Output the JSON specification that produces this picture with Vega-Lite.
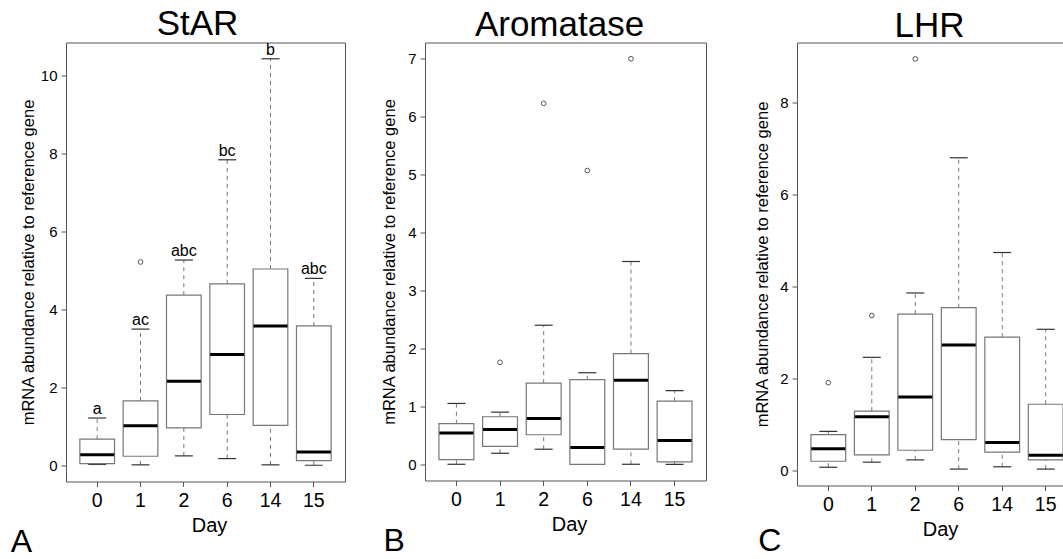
{
  "$schema": "https://vega.github.io/schema/vega-lite/v6.json",
  "padding": {"left": 10, "top": 5.5, "right": 0, "bottom": 0},
  "datasets": {
    "stats": [
      {"gene": "StAR", "day": "0", "lo": 0.02, "q1": 0.04, "med": 0.27, "q3": 0.67, "hi": 1.21, "sig": "a"},
      {"gene": "StAR", "day": "1", "lo": 0.01, "q1": 0.23, "med": 1.01, "q3": 1.65, "hi": 3.49, "sig": "ac"},
      {"gene": "StAR", "day": "2", "lo": 0.24, "q1": 0.96, "med": 2.15, "q3": 4.36, "hi": 5.26, "sig": "abc"},
      {"gene": "StAR", "day": "6", "lo": 0.17, "q1": 1.30, "med": 2.84, "q3": 4.65, "hi": 7.83, "sig": "bc"},
      {"gene": "StAR", "day": "14", "lo": 0.01, "q1": 1.02, "med": 3.57, "q3": 5.03, "hi": 10.42, "sig": "b"},
      {"gene": "StAR", "day": "15", "lo": 0.0, "q1": 0.12, "med": 0.34, "q3": 3.57, "hi": 4.79, "sig": "abc"},
      {"gene": "Aromatase", "day": "0", "lo": 0.0, "q1": 0.08, "med": 0.54, "q3": 0.70, "hi": 1.05, "sig": ""},
      {"gene": "Aromatase", "day": "1", "lo": 0.19, "q1": 0.31, "med": 0.60, "q3": 0.82, "hi": 0.90, "sig": ""},
      {"gene": "Aromatase", "day": "2", "lo": 0.26, "q1": 0.51, "med": 0.79, "q3": 1.40, "hi": 2.40, "sig": ""},
      {"gene": "Aromatase", "day": "6", "lo": 0.0, "q1": 0.0, "med": 0.29, "q3": 1.46, "hi": 1.58, "sig": ""},
      {"gene": "Aromatase", "day": "14", "lo": 0.0, "q1": 0.26, "med": 1.45, "q3": 1.91, "hi": 3.50, "sig": ""},
      {"gene": "Aromatase", "day": "15", "lo": 0.0, "q1": 0.04, "med": 0.41, "q3": 1.09, "hi": 1.27, "sig": ""},
      {"gene": "LHR", "day": "0", "lo": 0.06, "q1": 0.19, "med": 0.46, "q3": 0.77, "hi": 0.84, "sig": ""},
      {"gene": "LHR", "day": "1", "lo": 0.17, "q1": 0.33, "med": 1.16, "q3": 1.28, "hi": 2.45, "sig": ""},
      {"gene": "LHR", "day": "2", "lo": 0.22, "q1": 0.43, "med": 1.59, "q3": 3.39, "hi": 3.85, "sig": ""},
      {"gene": "LHR", "day": "6", "lo": 0.02, "q1": 0.66, "med": 2.72, "q3": 3.53, "hi": 6.79, "sig": ""},
      {"gene": "LHR", "day": "14", "lo": 0.07, "q1": 0.39, "med": 0.60, "q3": 2.89, "hi": 4.73, "sig": ""},
      {"gene": "LHR", "day": "15", "lo": 0.02, "q1": 0.22, "med": 0.32, "q3": 1.43, "hi": 3.06, "sig": ""}
    ],
    "outliers": [
      {"gene": "StAR", "day": "1", "value": 5.21},
      {"gene": "Aromatase", "day": "1", "value": 1.76},
      {"gene": "Aromatase", "day": "2", "value": 6.23},
      {"gene": "Aromatase", "day": "6", "value": 5.07},
      {"gene": "Aromatase", "day": "14", "value": 7.0},
      {"gene": "LHR", "day": "0", "value": 1.90},
      {"gene": "LHR", "day": "1", "value": 3.36},
      {"gene": "LHR", "day": "2", "value": 8.94}
    ]
  },
  "spacing": 46,
  "hconcat": [
    {
      "spacing": 80,
      "bounds": "flush",
      "hconcat": [
        {
          "title": {"text": "A", "orient": "bottom", "anchor": "start", "frame": "bounds", "fontSize": 32, "offset": -8, "dx": -9.5},
          "width": 279, "height": 439,
          "data": {"name": "stats"},
          "transform": [{"filter": "datum.gene === 'StAR'"}],
          "resolve": {"axis": {"x": "independent"}},
          "layer": [
            {"mark": {"type": "rule", "strokeDash": [4, 4], "color": "#777", "strokeWidth": 1},
             "encoding": {
               "x": {"field": "day", "type": "ordinal", "sort": ["0","1","2","6","14","15"], "scale": {"type": "band", "paddingInner": 0.2, "paddingOuter": 0.32},
                     "axis": {"orient": "bottom", "title": "Day", "labelAngle": 0, "labelFontSize": 19.5, "tickSize": 5, "labelPadding": 5, "titleFontSize": 20, "titlePadding": 5, "titleX": 143, "titleAlign": "center"}},
               "y": {"field": "lo", "type": "quantitative", "scale": {"domain": [-0.417, 10.837], "nice": false, "zero": false},
                     "axis": {"values": [0,2,4,6,8,10], "format": "d", "title": "mRNA abundance relative to reference gene", "titleFontSize": 16.5, "labelFontSize": 15, "tickSize": 5, "labelPadding": 4, "titleX": -32.7, "titleBaseline": "alphabetic"}},
               "y2": {"field": "q1"}}},
            {"mark": {"type": "rule", "strokeDash": [4, 4], "color": "#777", "strokeWidth": 1},
             "encoding": {
               "x": {"field": "day", "type": "ordinal", "sort": ["0","1","2","6","14","15"], "scale": {"type": "band", "paddingInner": 0.2, "paddingOuter": 0.32},
                     "axis": {"orient": "top", "labels": false, "ticks": false, "domain": false, "title": "StAR", "titleFontSize": 35, "titleX": 131, "titleY": -7.7, "titleBaseline": "alphabetic", "titleAlign": "center"}},
               "y": {"field": "q3", "type": "quantitative", "scale": {"domain": [-0.417, 10.837], "nice": false, "zero": false}},
               "y2": {"field": "hi"}}},
            {"mark": {"type": "tick", "size": 18, "thickness": 1.2, "color": "#333", "opacity": 1},
             "encoding": {
               "x": {"field": "day", "type": "ordinal", "sort": ["0","1","2","6","14","15"], "scale": {"type": "band", "paddingInner": 0.2, "paddingOuter": 0.32}, "axis": null},
               "y": {"field": "lo", "type": "quantitative", "scale": {"domain": [-0.417, 10.837], "nice": false, "zero": false}}}},
            {"mark": {"type": "tick", "size": 18, "thickness": 1.2, "color": "#333", "opacity": 1},
             "encoding": {
               "x": {"field": "day", "type": "ordinal", "sort": ["0","1","2","6","14","15"], "scale": {"type": "band", "paddingInner": 0.2, "paddingOuter": 0.32}, "axis": null},
               "y": {"field": "hi", "type": "quantitative", "scale": {"domain": [-0.417, 10.837], "nice": false, "zero": false}}}},
            {"mark": {"type": "bar", "fill": "white", "stroke": "#777", "strokeWidth": 1.2, "opacity": 1},
             "encoding": {
               "x": {"field": "day", "type": "ordinal", "sort": ["0","1","2","6","14","15"], "scale": {"type": "band", "paddingInner": 0.2, "paddingOuter": 0.32}, "axis": null},
               "y": {"field": "q1", "type": "quantitative", "scale": {"domain": [-0.417, 10.837], "nice": false, "zero": false}},
               "y2": {"field": "q3"}}},
            {"mark": {"type": "tick", "size": 34, "thickness": 3, "color": "black", "opacity": 1},
             "encoding": {
               "x": {"field": "day", "type": "ordinal", "sort": ["0","1","2","6","14","15"], "scale": {"type": "band", "paddingInner": 0.2, "paddingOuter": 0.32}, "axis": null},
               "y": {"field": "med", "type": "quantitative", "scale": {"domain": [-0.417, 10.837], "nice": false, "zero": false}}}},
            {"data": {"name": "outliers"},
             "transform": [{"filter": "datum.gene === 'StAR'"}],
             "mark": {"type": "point", "shape": "circle", "size": 22, "filled": false, "stroke": "#555", "strokeWidth": 1, "opacity": 1},
             "encoding": {
               "x": {"field": "day", "type": "ordinal", "sort": ["0","1","2","6","14","15"], "scale": {"type": "band", "paddingInner": 0.2, "paddingOuter": 0.32}, "axis": null},
               "y": {"field": "value", "type": "quantitative", "scale": {"domain": [-0.417, 10.837], "nice": false, "zero": false}}}},
            {"mark": {"type": "text", "dy": -4, "baseline": "alphabetic", "fontSize": 16, "color": "black", "opacity": 1},
             "encoding": {
               "x": {"field": "day", "type": "ordinal", "sort": ["0","1","2","6","14","15"], "scale": {"type": "band", "paddingInner": 0.2, "paddingOuter": 0.32}, "axis": null},
               "y": {"field": "hi", "type": "quantitative", "scale": {"domain": [-0.417, 10.837], "nice": false, "zero": false}},
               "text": {"field": "sig"}}}
          ]
        },
        {
          "title": {"text": "B", "orient": "bottom", "anchor": "start", "frame": "bounds", "fontSize": 32, "offset": -8, "dx": 2},
          "width": 281, "height": 438,
          "data": {"name": "stats"},
          "transform": [{"filter": "datum.gene === 'Aromatase'"}],
          "resolve": {"axis": {"x": "independent"}},
          "layer": [
            {"mark": {"type": "rule", "strokeDash": [4, 4], "color": "#777", "strokeWidth": 1},
             "encoding": {
               "x": {"field": "day", "type": "ordinal", "sort": ["0","1","2","6","14","15"], "scale": {"type": "band", "paddingInner": 0.2, "paddingOuter": 0.32},
                     "axis": {"orient": "bottom", "title": "Day", "labelAngle": 0, "labelFontSize": 19.5, "tickSize": 5, "labelPadding": 5, "titleFontSize": 20, "titlePadding": 5, "titleX": 144, "titleAlign": "center"}},
               "y": {"field": "lo", "type": "quantitative", "scale": {"domain": [-0.28, 7.28], "nice": false, "zero": false},
                     "axis": {"values": [0,1,2,3,4,5,6,7], "format": "d", "title": "mRNA abundance relative to reference gene", "titleFontSize": 16.5, "labelFontSize": 15, "tickSize": 5, "labelPadding": 4, "titleX": -30.4, "titleBaseline": "alphabetic"}},
               "y2": {"field": "q1"}}},
            {"mark": {"type": "rule", "strokeDash": [4, 4], "color": "#777", "strokeWidth": 1},
             "encoding": {
               "x": {"field": "day", "type": "ordinal", "sort": ["0","1","2","6","14","15"], "scale": {"type": "band", "paddingInner": 0.2, "paddingOuter": 0.32},
                     "axis": {"orient": "top", "labels": false, "ticks": false, "domain": false, "title": "Aromatase", "titleFontSize": 35, "titleX": 134, "titleY": -7.4, "titleBaseline": "alphabetic", "titleAlign": "center"}},
               "y": {"field": "q3", "type": "quantitative", "scale": {"domain": [-0.28, 7.28], "nice": false, "zero": false}},
               "y2": {"field": "hi"}}},
            {"mark": {"type": "tick", "size": 18, "thickness": 1.2, "color": "#333", "opacity": 1},
             "encoding": {
               "x": {"field": "day", "type": "ordinal", "sort": ["0","1","2","6","14","15"], "scale": {"type": "band", "paddingInner": 0.2, "paddingOuter": 0.32}, "axis": null},
               "y": {"field": "lo", "type": "quantitative", "scale": {"domain": [-0.28, 7.28], "nice": false, "zero": false}}}},
            {"mark": {"type": "tick", "size": 18, "thickness": 1.2, "color": "#333", "opacity": 1},
             "encoding": {
               "x": {"field": "day", "type": "ordinal", "sort": ["0","1","2","6","14","15"], "scale": {"type": "band", "paddingInner": 0.2, "paddingOuter": 0.32}, "axis": null},
               "y": {"field": "hi", "type": "quantitative", "scale": {"domain": [-0.28, 7.28], "nice": false, "zero": false}}}},
            {"mark": {"type": "bar", "fill": "white", "stroke": "#777", "strokeWidth": 1.2, "opacity": 1},
             "encoding": {
               "x": {"field": "day", "type": "ordinal", "sort": ["0","1","2","6","14","15"], "scale": {"type": "band", "paddingInner": 0.2, "paddingOuter": 0.32}, "axis": null},
               "y": {"field": "q1", "type": "quantitative", "scale": {"domain": [-0.28, 7.28], "nice": false, "zero": false}},
               "y2": {"field": "q3"}}},
            {"mark": {"type": "tick", "size": 34, "thickness": 3, "color": "black", "opacity": 1},
             "encoding": {
               "x": {"field": "day", "type": "ordinal", "sort": ["0","1","2","6","14","15"], "scale": {"type": "band", "paddingInner": 0.2, "paddingOuter": 0.32}, "axis": null},
               "y": {"field": "med", "type": "quantitative", "scale": {"domain": [-0.28, 7.28], "nice": false, "zero": false}}}},
            {"data": {"name": "outliers"},
             "transform": [{"filter": "datum.gene === 'Aromatase'"}],
             "mark": {"type": "point", "shape": "circle", "size": 22, "filled": false, "stroke": "#555", "strokeWidth": 1, "opacity": 1},
             "encoding": {
               "x": {"field": "day", "type": "ordinal", "sort": ["0","1","2","6","14","15"], "scale": {"type": "band", "paddingInner": 0.2, "paddingOuter": 0.32}, "axis": null},
               "y": {"field": "value", "type": "quantitative", "scale": {"domain": [-0.28, 7.28], "nice": false, "zero": false}}}}
          ]
        }
      ]
    },
    {
      "title": {"text": "C", "orient": "bottom", "anchor": "start", "frame": "bounds", "fontSize": 32, "offset": -13, "dx": 4},
      "width": 280, "height": 443,
      "data": {"name": "stats"},
      "transform": [{"filter": "datum.gene === 'LHR'"}],
      "resolve": {"axis": {"x": "independent"}},
      "layer": [
        {"mark": {"type": "rule", "strokeDash": [4, 4], "color": "#777", "strokeWidth": 1},
         "encoding": {
           "x": {"field": "day", "type": "ordinal", "sort": ["0","1","2","6","14","15"], "scale": {"type": "band", "paddingInner": 0.2, "paddingOuter": 0.32},
                 "axis": {"orient": "bottom", "title": "Day", "labelAngle": 0, "labelFontSize": 19.5, "tickSize": 5, "labelPadding": 5, "titleFontSize": 20, "titlePadding": 5, "titleX": 143, "titleAlign": "center"}},
           "y": {"field": "lo", "type": "quantitative", "scale": {"domain": [-0.337, 9.297], "nice": false, "zero": false},
                 "axis": {"values": [0,2,4,6,8], "format": "d", "title": "mRNA abundance relative to reference gene", "titleFontSize": 16.5, "labelFontSize": 15, "tickSize": 5, "labelPadding": 4, "titleX": -29.7, "titleBaseline": "alphabetic"}},
           "y2": {"field": "q1"}}},
        {"mark": {"type": "rule", "strokeDash": [4, 4], "color": "#777", "strokeWidth": 1},
         "encoding": {
           "x": {"field": "day", "type": "ordinal", "sort": ["0","1","2","6","14","15"], "scale": {"type": "band", "paddingInner": 0.2, "paddingOuter": 0.32},
                 "axis": {"orient": "top", "labels": false, "ticks": false, "domain": false, "title": "LHR", "titleFontSize": 35, "titleX": 132, "titleY": -6.5, "titleBaseline": "alphabetic", "titleAlign": "center"}},
           "y": {"field": "q3", "type": "quantitative", "scale": {"domain": [-0.337, 9.297], "nice": false, "zero": false}},
           "y2": {"field": "hi"}}},
        {"mark": {"type": "tick", "size": 18, "thickness": 1.2, "color": "#333", "opacity": 1},
         "encoding": {
           "x": {"field": "day", "type": "ordinal", "sort": ["0","1","2","6","14","15"], "scale": {"type": "band", "paddingInner": 0.2, "paddingOuter": 0.32}, "axis": null},
           "y": {"field": "lo", "type": "quantitative", "scale": {"domain": [-0.337, 9.297], "nice": false, "zero": false}}}},
        {"mark": {"type": "tick", "size": 18, "thickness": 1.2, "color": "#333", "opacity": 1},
         "encoding": {
           "x": {"field": "day", "type": "ordinal", "sort": ["0","1","2","6","14","15"], "scale": {"type": "band", "paddingInner": 0.2, "paddingOuter": 0.32}, "axis": null},
           "y": {"field": "hi", "type": "quantitative", "scale": {"domain": [-0.337, 9.297], "nice": false, "zero": false}}}},
        {"mark": {"type": "bar", "fill": "white", "stroke": "#777", "strokeWidth": 1.2, "opacity": 1},
         "encoding": {
           "x": {"field": "day", "type": "ordinal", "sort": ["0","1","2","6","14","15"], "scale": {"type": "band", "paddingInner": 0.2, "paddingOuter": 0.32}, "axis": null},
           "y": {"field": "q1", "type": "quantitative", "scale": {"domain": [-0.337, 9.297], "nice": false, "zero": false}},
           "y2": {"field": "q3"}}},
        {"mark": {"type": "tick", "size": 34, "thickness": 3, "color": "black", "opacity": 1},
         "encoding": {
           "x": {"field": "day", "type": "ordinal", "sort": ["0","1","2","6","14","15"], "scale": {"type": "band", "paddingInner": 0.2, "paddingOuter": 0.32}, "axis": null},
           "y": {"field": "med", "type": "quantitative", "scale": {"domain": [-0.337, 9.297], "nice": false, "zero": false}}}},
        {"data": {"name": "outliers"},
         "transform": [{"filter": "datum.gene === 'LHR'"}],
         "mark": {"type": "point", "shape": "circle", "size": 22, "filled": false, "stroke": "#555", "strokeWidth": 1, "opacity": 1},
         "encoding": {
           "x": {"field": "day", "type": "ordinal", "sort": ["0","1","2","6","14","15"], "scale": {"type": "band", "paddingInner": 0.2, "paddingOuter": 0.32}, "axis": null},
           "y": {"field": "value", "type": "quantitative", "scale": {"domain": [-0.337, 9.297], "nice": false, "zero": false}}}}
      ]
    }
  ],
  "config": {
    "font": "Liberation Sans",
    "view": {"stroke": "#555", "strokeWidth": 1},
    "axis": {"labelFont": "Liberation Sans", "titleFont": "Liberation Sans", "labelColor": "black", "titleColor": "black", "titleFontWeight": "normal", "grid": false, "domain": false, "tickColor": "#555", "tickWidth": 1},
    "title": {"font": "Liberation Sans", "fontWeight": "normal", "color": "black"}
  }
}
